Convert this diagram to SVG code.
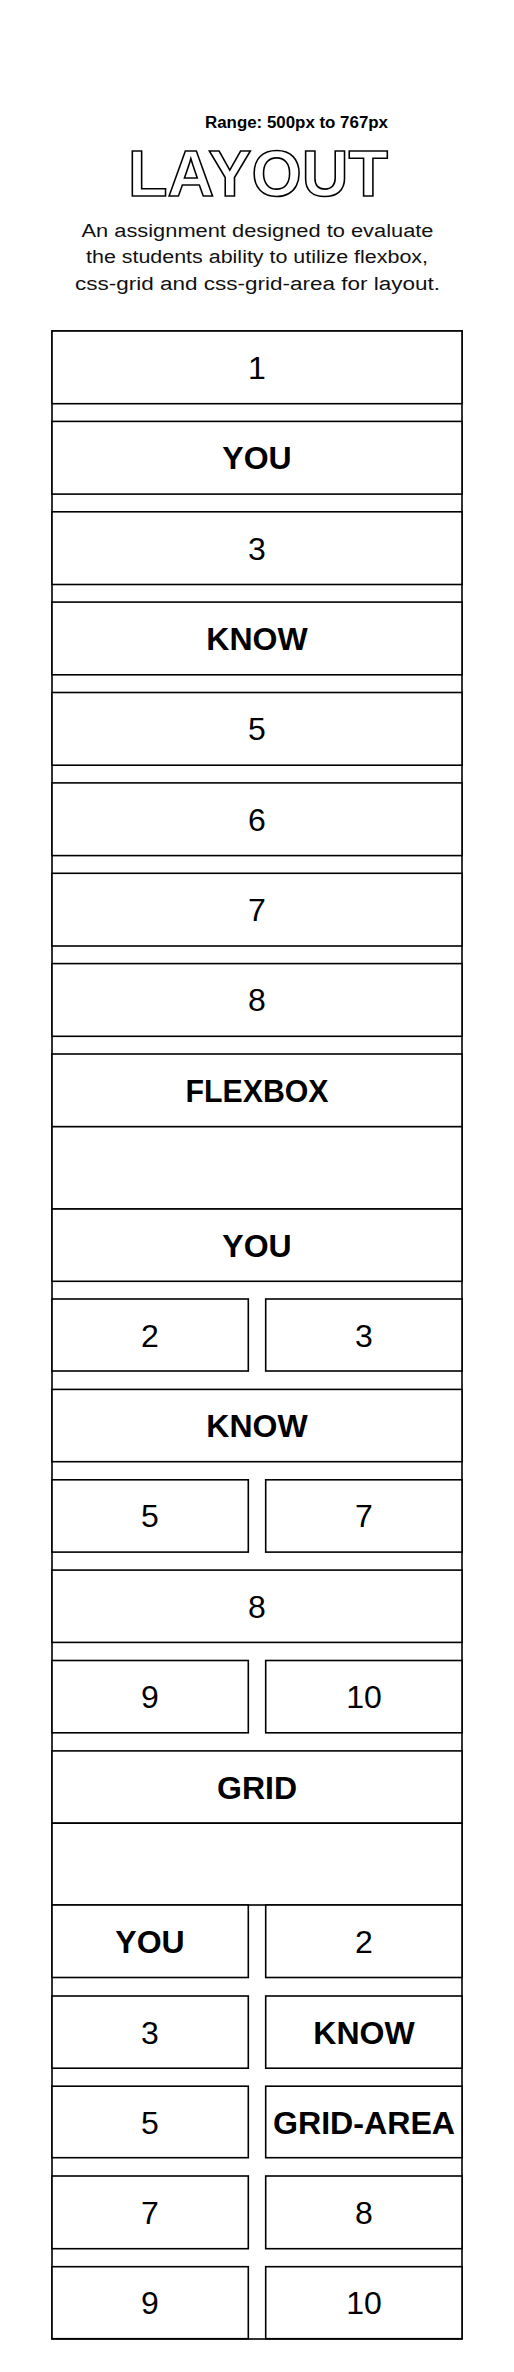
<svg xmlns="http://www.w3.org/2000/svg" width="514" height="2372" viewBox="0 0 514 2372">
<style>
  .box { fill: #fff; stroke: #000; stroke-width: 1.6; }
  .frame { fill: none; stroke: #000; stroke-width: 1.6; }
  .n { font-family: "Liberation Sans", Arial, sans-serif; font-size: 32px; fill: #000; text-anchor: middle; }
  .b { font-family: "Liberation Sans", Arial, sans-serif; font-size: 32px; font-weight: bold; fill: #000; text-anchor: middle; }
  .desc { font-family: "Liberation Sans", Arial, sans-serif; font-size: 18px; fill: #111; text-anchor: middle; }
</style>
<rect width="514" height="2372" fill="#fff"/>
<g id="header">
  <text x="388" y="128.3" font-family="Liberation Sans, Arial, sans-serif" font-size="16" font-weight="bold" text-anchor="end" textLength="183" lengthAdjust="spacingAndGlyphs">Range: 500px to 767px</text>
  <text x="258" y="195.7" font-family="Liberation Sans, Arial, sans-serif" font-size="65" font-weight="bold" text-anchor="middle" fill="#fff" stroke="#000" stroke-width="1.6" textLength="260" lengthAdjust="spacingAndGlyphs">LAYOUT</text>
  <text class="desc" x="257.5" y="236.7" textLength="352" lengthAdjust="spacingAndGlyphs">An assignment designed to evaluate</text>
  <text class="desc" x="257" y="263.3" textLength="342" lengthAdjust="spacingAndGlyphs">the students ability to utilize flexbox,</text>
  <text class="desc" x="257.5" y="290" textLength="365" lengthAdjust="spacingAndGlyphs">css-grid and css-grid-area for layout.</text>
</g>
<g id="container">
  <rect class="frame" x="52" y="331" width="410" height="2008"/>
</g>
<g id="row1"><rect class="box" x="52" y="331" width="410" height="72.7"/><text class="n" x="257" y="378.8">1</text></g>
<g id="row2"><rect class="box" x="52" y="421.4" width="410" height="72.7"/><text class="b" x="257" y="469.2">YOU</text></g>
<g id="row3"><rect class="box" x="52" y="511.8" width="410" height="72.7"/><text class="n" x="257" y="559.6">3</text></g>
<g id="row4"><rect class="box" x="52" y="602.1" width="410" height="72.7"/><text class="b" x="257" y="649.9">KNOW</text></g>
<g id="row5"><rect class="box" x="52" y="692.5" width="410" height="72.7"/><text class="n" x="257" y="740.3">5</text></g>
<g id="row6"><rect class="box" x="52" y="782.9" width="410" height="72.7"/><text class="n" x="257" y="830.7">6</text></g>
<g id="row7"><rect class="box" x="52" y="873.3" width="410" height="72.7"/><text class="n" x="257" y="921.1">7</text></g>
<g id="row8"><rect class="box" x="52" y="963.6" width="410" height="72.7"/><text class="n" x="257" y="1011.4">8</text></g>
<g id="flexbox-title"><rect class="box" x="52" y="1054" width="410" height="72.7"/><text class="b" x="257" y="1101.8" textLength="143" lengthAdjust="spacingAndGlyphs">FLEXBOX</text></g>
<g id="flexbox-spacer"><rect class="box" x="52" y="1126.7" width="410" height="82.3"/></g>
<g id="flex-you"><rect class="box" x="52" y="1209" width="410" height="72.3"/><text class="b" x="257" y="1256.6">YOU</text></g>
<g id="flex-2"><rect class="box" x="52" y="1299" width="196.3" height="72"/><text class="n" x="150" y="1346.5">2</text></g>
<g id="flex-3"><rect class="box" x="265.7" y="1299" width="196.3" height="72"/><text class="n" x="364" y="1346.5">3</text></g>
<g id="flex-know"><rect class="box" x="52" y="1389.4" width="410" height="72.3"/><text class="b" x="257" y="1437">KNOW</text></g>
<g id="flex-5"><rect class="box" x="52" y="1479.8" width="196.3" height="72.3"/><text class="n" x="150" y="1527.4">5</text></g>
<g id="flex-7"><rect class="box" x="265.7" y="1479.8" width="196.3" height="72.3"/><text class="n" x="364" y="1527.4">7</text></g>
<g id="flex-8"><rect class="box" x="52" y="1570.1" width="410" height="72.3"/><text class="n" x="257" y="1617.7">8</text></g>
<g id="flex-9"><rect class="box" x="52" y="1660.5" width="196.3" height="72.3"/><text class="n" x="150" y="1708.1">9</text></g>
<g id="flex-10"><rect class="box" x="265.7" y="1660.5" width="196.3" height="72.3"/><text class="n" x="364" y="1708.1">10</text></g>
<g id="grid-title"><rect class="box" x="52" y="1750.9" width="410" height="72.3"/><text class="b" x="257" y="1798.5">GRID</text></g>
<g id="grid-spacer"><rect class="box" x="52" y="1823.2" width="410" height="81.8"/></g>
<g id="grid-you"><rect class="box" x="52" y="1905" width="196.3" height="72.5"/><text class="b" x="150" y="1952.7">YOU</text></g>
<g id="grid-2"><rect class="box" x="265.7" y="1905" width="196.3" height="72.5"/><text class="n" x="364" y="1952.7">2</text></g>
<g id="grid-3"><rect class="box" x="52" y="1996" width="196.3" height="72.2"/><text class="n" x="150" y="2043.6">3</text></g>
<g id="grid-know"><rect class="box" x="265.7" y="1996" width="196.3" height="72.2"/><text class="b" x="364" y="2043.6">KNOW</text></g>
<g id="grid-5"><rect class="box" x="52" y="2086.2" width="196.3" height="71.5"/><text class="n" x="150" y="2133.5">5</text></g>
<g id="grid-area"><rect class="box" x="265.7" y="2086.2" width="196.3" height="71.5"/><text class="b" x="364" y="2133.5" textLength="182" lengthAdjust="spacingAndGlyphs">GRID-AREA</text></g>
<g id="grid-7"><rect class="box" x="52" y="2176" width="196.3" height="72.7"/><text class="n" x="150" y="2223.8">7</text></g>
<g id="grid-8"><rect class="box" x="265.7" y="2176" width="196.3" height="72.7"/><text class="n" x="364" y="2223.8">8</text></g>
<g id="grid-9"><rect class="box" x="52" y="2266.7" width="196.3" height="72"/><text class="n" x="150" y="2314.2">9</text></g>
<g id="grid-10"><rect class="box" x="265.7" y="2266.7" width="196.3" height="72"/><text class="n" x="364" y="2314.2">10</text></g>
<g id="connectors"></g>
</svg>
